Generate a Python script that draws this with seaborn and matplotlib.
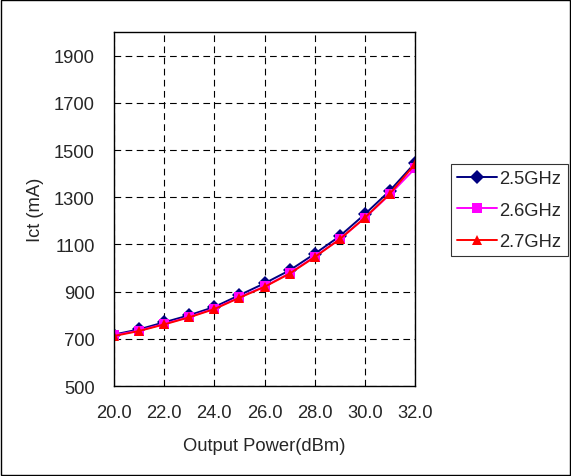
import matplotlib
matplotlib.use("Agg")
import matplotlib.pyplot as plt
import seaborn as sns
import pandas as pd
from matplotlib.patches import Rectangle

power = [20, 21, 22, 23, 24, 25, 26, 27, 28, 29, 30, 31, 32]
ict_25 = [718, 740, 770, 800, 835, 885, 935, 990, 1060, 1135, 1228, 1328, 1445]
ict_26 = [715, 735, 763, 793, 828, 876, 922, 978, 1048, 1122, 1212, 1312, 1422]
ict_27 = [712, 733, 761, 791, 826, 874, 920, 976, 1046, 1122, 1213, 1315, 1440]
series = ["2.5GHz", "2.6GHz", "2.7GHz"]
x_ticks = [20, 22, 24, 26, 28, 30, 32]
y_ticks = [500, 700, 900, 1100, 1300, 1500, 1700, 1900]

rows = []
for name, vals in zip(series, [ict_25, ict_26, ict_27]):
    for p, v in zip(power, vals):
        rows.append({"power": p, "ict": v, "freq": name})
df = pd.DataFrame(rows)

sns.set_style("white")
plt.rcParams["font.family"] = ["Liberation Sans", "DejaVu Sans"]
FS = 13.2

fig = plt.figure(figsize=(5.71, 4.77), dpi=100)
ax = fig.add_axes([114/571, 1-387/477, (415-114)/571, (387-33)/477])

palette = {"2.5GHz": "#000080", "2.6GHz": "#FF00FF", "2.7GHz": "#FF0000"}
markers = {"2.5GHz": "D", "2.6GHz": "s", "2.7GHz": "^"}
sns.lineplot(data=df, x="power", y="ict", hue="freq", style="freq",
             palette=palette, markers=markers, dashes=False,
             markersize=7.5, linewidth=1.4, markeredgewidth=0, ax=ax)

ax.set_xlim(20, 32)
ax.set_ylim(500, 2000)
ax.set_xticks(x_ticks)
ax.set_xticklabels([f"{t:.1f}" for t in x_ticks], fontsize=FS)
ax.set_yticks(y_ticks)
ax.set_yticklabels([str(t) for t in y_ticks], fontsize=FS)
ax.grid(True, color="black", linestyle=(0, (6, 4)), linewidth=0.8)
for s in ax.spines.values():
    s.set_color("black")
    s.set_linewidth(1)
ax.tick_params(axis="both", direction="in", length=4, color="black", width=1)
ax.tick_params(axis="y", pad=14)
ax.tick_params(axis="x", pad=13)
ax.set_xlabel("Output Power(dBm)", fontsize=FS)
ax.set_ylabel("Ict (mA)", fontsize=FS)
ax.xaxis.set_label_coords(0.5, (447 - 387) / (33 - 387), transform=ax.transAxes)
ax.xaxis.label.set_va("center")
ax.yaxis.set_label_coords((35 - 114) / (415 - 114), 0.5, transform=ax.transAxes)
ax.yaxis.label.set_va("center")

leg = ax.legend(loc="upper left", bbox_to_anchor=(451/571, 1-165/477),
                bbox_transform=fig.transFigure, fontsize=FS, frameon=True,
                fancybox=False, edgecolor="black", handlelength=2.15,
                handletextpad=0.15, borderpad=0.35, labelspacing=0.78,
                borderaxespad=0)
leg.get_frame().set_linewidth(0.8)

fig.patches.append(Rectangle((1/571, 1/477), 569/571, 475/477, transform=fig.transFigure,
                             fill=False, edgecolor="black", linewidth=1))

fig.savefig("out.png", dpi=100)
